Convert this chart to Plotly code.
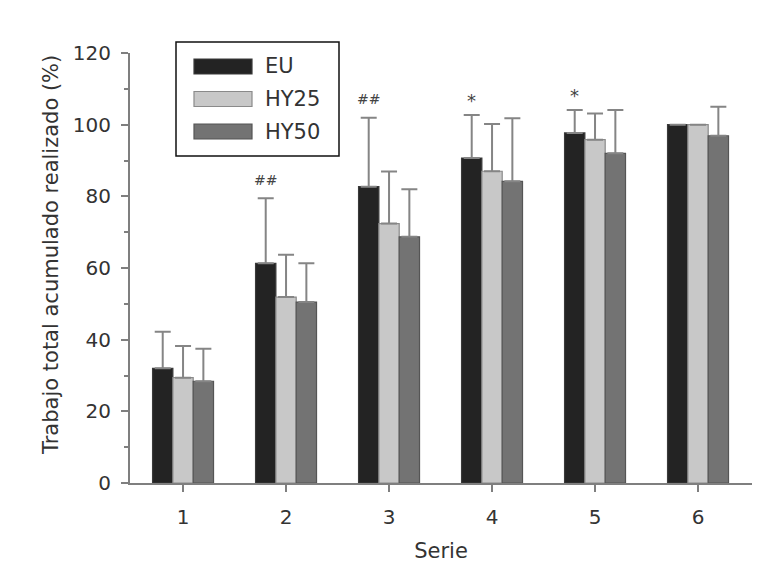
import plotly.graph_objects as go

series_names = ["EU", "HY25", "HY50"]
categories = [1, 2, 3, 4, 5, 6]
tick_labels = ["1", "2", "3", "4", "5", "6"]

eu_mean = [32.0, 61.3, 82.7, 90.7, 97.7, 100.0]
eu_sd = [10.2, 18.2, 19.2, 12.0, 6.4, None]
hy25_mean = [29.4, 51.9, 72.4, 87.0, 95.8, 100.0]
hy25_sd = [8.8, 11.8, 14.5, 13.2, 7.3, None]
hy50_mean = [28.4, 50.5, 68.7, 84.2, 92.0, 96.9]
hy50_sd = [9.1, 10.8, 13.3, 17.6, 12.1, 8.1]

sig_marks = ["", "##", "##", "*", "*", ""]

y_ticks = [0, 20, 40, 60, 80, 100, 120]

fill_colors = ["#232323", "#c8c8c8", "#737373"]
edge_colors = ["#3a3a3a", "#8a8a8a", "#555555"]

# page body has an 8px margin: figure is drawn offset by (8, 8)
OFF = 8
W, H = 769 - OFF, 578 - OFF
L, R, T, B = 130 - OFF, 17, 53 - OFF, 95
PW, PH = W - L - R, H - T - B


def px(x):
    """reference page x pixel -> paper fraction"""
    return (x - OFF - L) / PW


def py(y):
    """reference page y pixel -> paper fraction"""
    return (H - B - (y - OFF)) / PH


FONT = "DejaVu Sans"
TXT = "#333333"
AX = "#7f7f7f"

fig = go.Figure()
means = [eu_mean, hy25_mean, hy50_mean]
sds = [eu_sd, hy25_sd, hy50_sd]
for i, name in enumerate(series_names):
    fig.add_trace(go.Bar(
        x=categories, y=means[i], name=name, showlegend=False,
        marker=dict(color=fill_colors[i], line=dict(color=edge_colors[i], width=1.2)),
        error_y=dict(type="data", symmetric=False, array=sds[i],
                     arrayminus=[0] * len(categories),
                     color="#858585", thickness=2, width=8),
    ))

bargap = 0.408
n = len(series_names)
eu_offset = -(1 - bargap) / n

for c, m, s, mark in zip(categories, eu_mean, eu_sd, sig_marks):
    if mark:
        star = mark == "*"
        fig.add_annotation(x=c + eu_offset, y=m + (s or 0), text=mark,
                           showarrow=False, yanchor="middle",
                           yshift=14 if star else 18.5,
                           font=dict(family=FONT, size=18 if star else 14, color="#444"))

# custom legend (box, swatches, labels)
fig.add_shape(type="rect", xref="paper", yref="paper",
              x0=px(176), x1=px(339), y0=py(156), y1=py(42),
              line=dict(color="#111", width=1.5), fillcolor="white")
for i, name in enumerate(series_names):
    yc = 66.5 + 32.5 * i
    fig.add_shape(type="rect", xref="paper", yref="paper",
                  x0=px(194), x1=px(252), y0=py(yc + 7.5), y1=py(yc - 7.5),
                  line=dict(color=edge_colors[i], width=1.2), fillcolor=fill_colors[i])
    fig.add_annotation(xref="paper", yref="paper", x=px(263), y=py(yc),
                       text=name, showarrow=False, xanchor="left", yanchor="middle",
                       font=dict(family=FONT, size=21, color=TXT))

fig.add_annotation(xref="paper", yref="paper", x=px(51), y=py(255),
                   text="Trabajo total acumulado realizado (%)", textangle=-90,
                   showarrow=False, xanchor="center", yanchor="middle",
                   font=dict(family=FONT, size=21, color=TXT))

fig.update_layout(
    width=W, height=H, autosize=False,
    margin=dict(l=L, r=R, t=T, b=B, pad=0),
    paper_bgcolor="white", plot_bgcolor="white",
    barmode="group", bargap=bargap, bargroupgap=0,
    font=dict(family=FONT, size=20, color=TXT),
    xaxis=dict(range=[0.485, 6.524], tickvals=categories, ticktext=tick_labels,
               showline=True, linecolor=AX, linewidth=2, showgrid=False, zeroline=False,
               ticks="outside", ticklen=7, tickwidth=2, tickcolor=AX,
               ticklabelstandoff=8,
               title=dict(text="Serie", standoff=15, font=dict(size=21))),
    yaxis=dict(range=[0, 120], tickvals=y_ticks,
               showline=True, linecolor=AX, linewidth=2, showgrid=False, zeroline=False,
               ticks="outside", ticklen=7, tickwidth=2, tickcolor=AX,
               ticklabelstandoff=6,
               minor=dict(dtick=10, ticks="outside", ticklen=4, tickwidth=2, tickcolor=AX)),
)

fig.write_html("out.html")
